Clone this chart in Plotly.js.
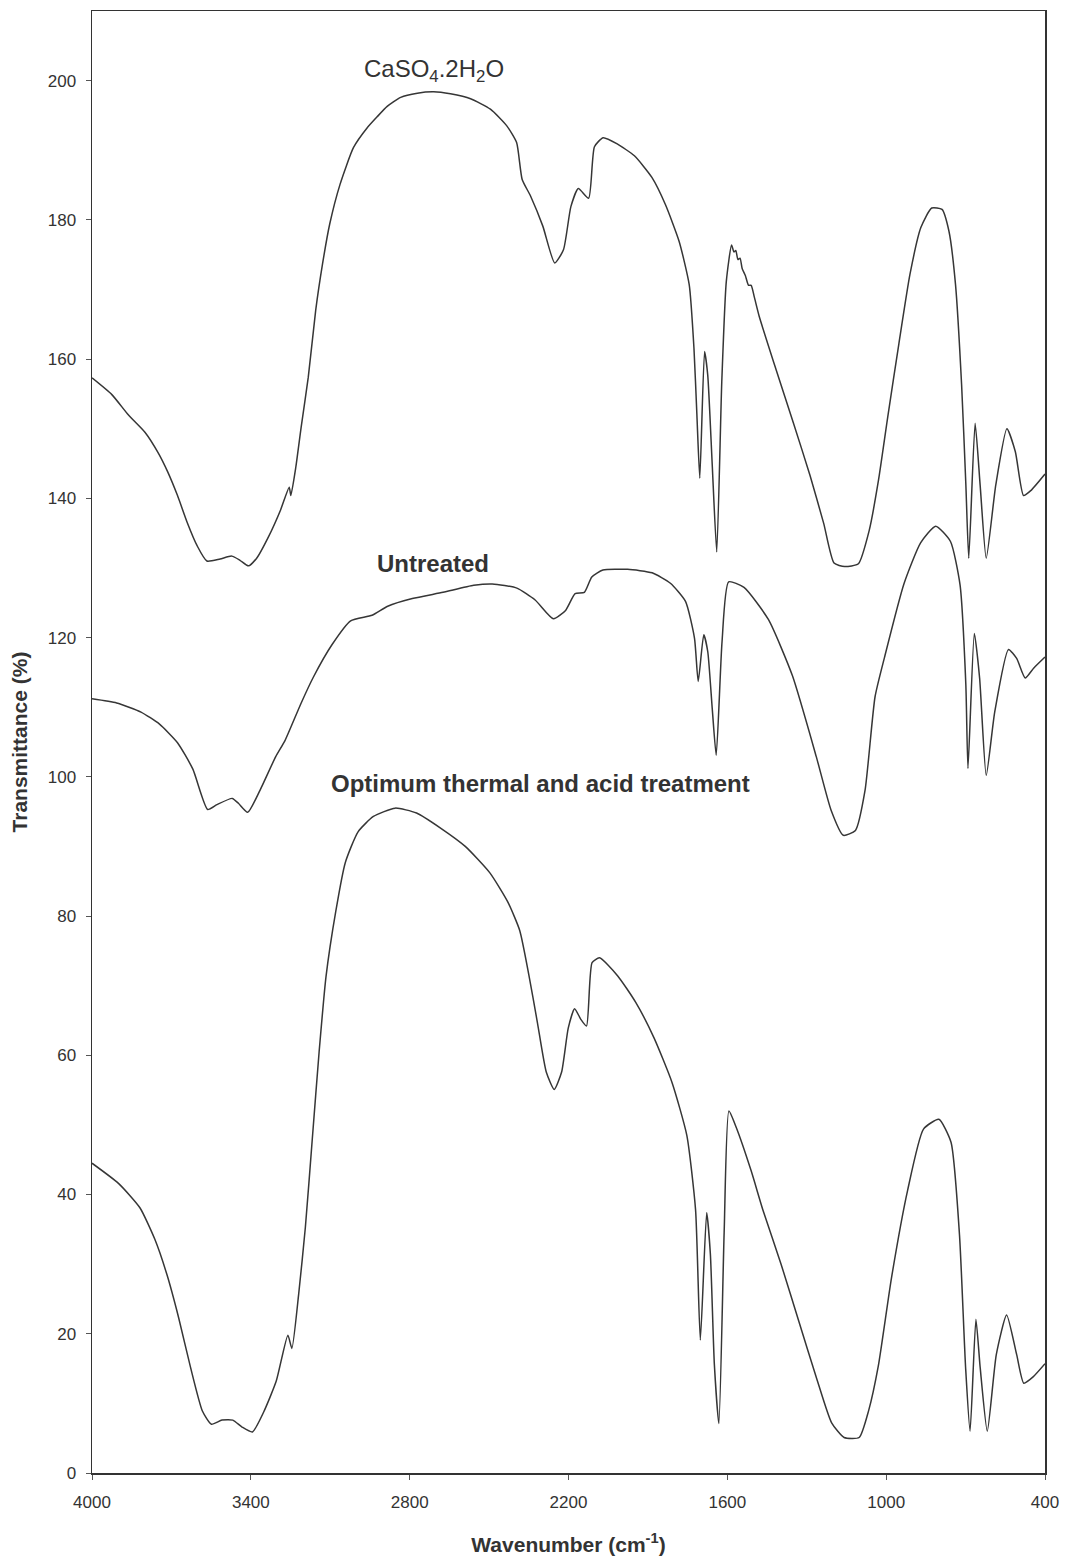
<!DOCTYPE html>
<html>
<head>
<meta charset="utf-8">
<script src="https://cdn.plot.ly/plotly-3.0.1.min.js"></script>
<style>
  html, body { margin: 0; padding: 0; background: #ffffff; }
  #chart { width: 1071px; height: 1556px; }
</style>
</head>
<body>
<div id="chart"></div>
<script>
// FTIR transmittance spectra (wavenumber in cm-1, transmittance in %)

// CaSO4.2H2O reference spectrum
const gypsumWn = [4000,3925,3863,3800,3751,3714,3677,3640,3603,3566,3516,3472,3441,3409,3378,3333,3288,3255,3249,3230,3210,3183,3155,3129,3102,3063,3012,2961,2923,2885,2834,2771,2709,2646,2570,2495,2433,2396,2375,2343,2297,2252,2219,2191,2163,2124,2102,2069,2016,1951,1885,1834,1782,1744,1726,1715,1704,1686,1674,1657,1640,1621,1604,1584,1575,1568,1560,1552,1544,1532,1520,1510,1498,1480,1416,1351,1287,1236,1197,1157,1105,1064,1029,994,952,910,869,828,789,763,738,715,699,688,664,645,622,586,544,512,481,454,400];
const gypsumT = [157.3,154.9,152.0,149.5,146.6,143.8,140.4,136.5,133.2,131.0,131.3,131.7,131.1,130.3,131.4,134.5,138.3,141.6,140.4,144.5,150.2,157.4,167.0,173.7,179.4,185.1,190.4,193.2,194.8,196.3,197.6,198.2,198.4,198.1,197.4,195.9,193.5,191.1,185.8,183.4,179.1,173.8,175.7,181.9,184.5,183.1,190.5,191.8,190.9,189.2,186.1,182.2,176.9,170.7,161.5,152.0,142.9,161.1,157.7,144.8,132.3,156.7,171.1,176.4,175.4,175.6,174.3,174.5,173.0,172.0,170.6,170.6,168.9,166.2,158.5,150.9,143.2,136.4,130.7,130.2,130.6,135.4,142.6,151.7,162.2,172.2,178.9,181.7,181.5,178.4,170.7,156.3,142.0,131.4,150.8,141.9,131.4,141.9,150.0,146.7,140.4,141.1,143.5];

// Untreated sample
const rawWn = [4000,3907,3815,3746,3677,3619,3563,3528,3470,3447,3412,3365,3306,3271,3211,3164,3093,3023,2942,2883,2790,2674,2558,2488,2395,2326,2257,2211,2175,2140,2112,2070,1977,1884,1815,1758,1724,1710,1689,1674,1657,1642,1620,1595,1537,1445,1354,1264,1208,1162,1116,1080,1042,1006,933,870,813,757,721,699,691,667,647,622,590,538,507,475,443,400];
const rawT = [111.2,110.6,109.3,107.6,104.9,101.1,95.3,96.0,96.9,96.2,94.9,98.1,102.9,105.2,110.5,114.3,119.0,122.4,123.2,124.5,125.6,126.5,127.5,127.7,127.1,125.4,122.7,123.9,126.3,126.5,128.7,129.7,129.8,129.3,127.8,125.2,119.9,113.7,120.4,118.0,109.8,103.1,119.4,128.0,127.2,122.6,114.5,102.9,95.2,91.6,92.3,98.0,111.5,117.2,127.7,133.6,136.0,133.8,127.6,113.2,101.2,120.6,114.2,100.2,109.3,118.3,117.0,114.2,115.6,117.2];

// Sample after optimum thermal and acid treatment
const optWn = [4000,3900,3819,3763,3717,3672,3628,3583,3549,3509,3468,3433,3394,3351,3304,3260,3245,3219,3194,3168,3142,3116,3079,3043,2995,2937,2855,2774,2682,2590,2497,2429,2384,2350,2317,2284,2254,2226,2201,2177,2154,2132,2111,2083,2014,1946,1877,1809,1753,1720,1702,1678,1664,1649,1632,1612,1594,1567,1510,1465,1397,1330,1262,1206,1159,1102,1066,1030,980,919,859,801,755,723,700,683,661,645,618,584,545,507,480,445,400];
const optT = [44.5,41.6,38.1,33.6,28.5,22.2,15.2,8.9,7.0,7.6,7.6,6.6,5.9,8.8,13.2,19.8,17.9,25.8,35.3,47.9,60.5,71.3,80.7,87.7,92.1,94.3,95.5,94.8,92.6,90.0,86.2,82.0,77.9,71.6,64.6,57.6,55.1,57.6,63.9,66.7,65.2,64.2,73.3,74.0,71.4,67.6,62.5,56.1,48.5,37.8,19.1,37.4,31.4,15.6,7.1,34.6,52.0,49.7,43.4,37.7,30.0,21.8,13.5,7.2,5.1,5.1,9.0,15.3,28.0,40.6,49.4,50.8,47.5,34.2,15.2,6.0,22.1,15.2,6.0,17.0,22.7,17.0,12.9,13.8,15.7];

const xTicks = [4000, 3400, 2800, 2200, 1600, 1000, 400];
const yTicks = [0, 20, 40, 60, 80, 100, 120, 140, 160, 180, 200];

const lineStyle = { color: '#363636', width: 1.5, shape: 'spline', smoothing: 0.55 };
const fontFamily = '"Liberation Sans", Arial, Helvetica, sans-serif';

const traces = [
  { x: gypsumWn, y: gypsumT, name: 'CaSO4.2H2O', mode: 'lines', line: lineStyle },
  { x: rawWn, y: rawT, name: 'Untreated', mode: 'lines', line: lineStyle },
  { x: optWn, y: optT, name: 'Optimum thermal and acid treatment', mode: 'lines', line: lineStyle }
];

const layout = {
  width: 1071,
  height: 1556,
  margin: { l: 92, r: 26, t: 11, b: 83 },
  paper_bgcolor: '#ffffff',
  plot_bgcolor: '#ffffff',
  showlegend: false,
  font: { family: fontFamily, color: '#333333' },
  xaxis: {
    range: [4000, 400],
    tickvals: xTicks,
    ticktext: xTicks.map(String),
    ticks: 'outside',
    ticklen: 5,
    tickcolor: '#555555',
    ticklabelstandoff: 8,
    tickfont: { size: 17, color: '#333333' },
    showgrid: false,
    zeroline: false,
    showline: true,
    linecolor: '#333333',
    linewidth: 1.5,
    mirror: true,
    title: {
      text: 'Wavenumber (cm<sup>-1</sup>)',
      font: { size: 21, weight: 'bold', color: '#333333' },
      standoff: 28
    }
  },
  yaxis: {
    range: [0, 210],
    tickvals: yTicks,
    ticks: 'outside',
    ticklen: 5,
    tickcolor: '#555555',
    ticklabelstandoff: 6,
    tickfont: { size: 17, color: '#333333' },
    showgrid: false,
    zeroline: false,
    showline: true,
    linecolor: '#333333',
    linewidth: 1.5,
    mirror: true,
    title: {
      text: 'Transmittance (%)',
      font: { size: 21, weight: 'bold', color: '#333333' },
      standoff: 14
    }
  },
  annotations: [
    { x: 2707, y: 201.5, xref: 'x', yref: 'y', text: 'CaSO<sub>4</sub>.2H<sub>2</sub>O',
      showarrow: false, font: { size: 24, color: '#333333' } },
    { x: 2711, y: 130.7, xref: 'x', yref: 'y', text: 'Untreated',
      showarrow: false, font: { size: 24, weight: 'bold', color: '#333333' } },
    { x: 2307, y: 99.1, xref: 'x', yref: 'y', text: 'Optimum thermal and acid treatment',
      showarrow: false, font: { size: 24, weight: 'bold', color: '#333333' } }
  ]
};

Plotly.newPlot('chart', traces, layout, { staticPlot: true, displayModeBar: false });
</script>
</body>
</html>
